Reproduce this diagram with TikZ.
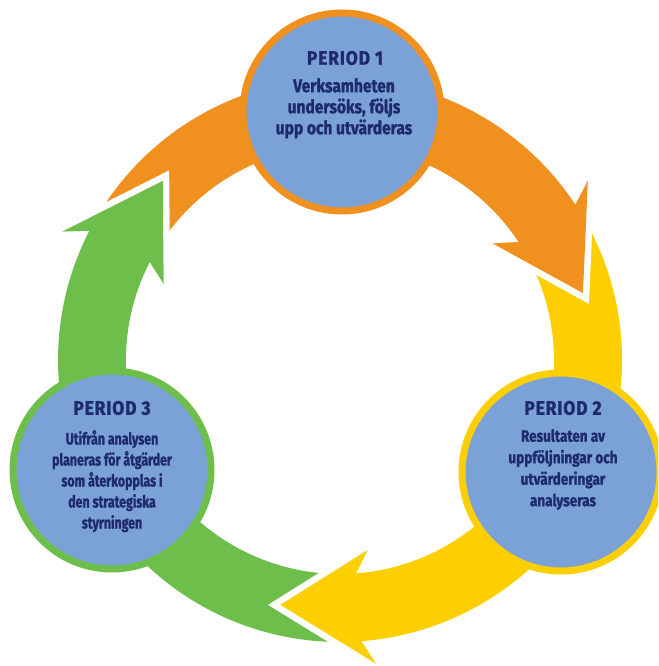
\documentclass[tikz,border=0pt]{standalone}
\usepackage{fontspec}
\setmainfont{Fira Sans}[FakeStretch=0.75, BoldFeatures={FakeBold=1.2}]
\newfontfamily\bodyone{Fira Sans}[FakeStretch=0.84, BoldFeatures={FakeBold=1.3}]
\newfontfamily\bodytwo{Fira Sans}[FakeStretch=0.82, BoldFeatures={FakeBold=1.2}]
\newfontfamily\ttlfont{Fira Sans}[FakeStretch=0.9, LetterSpace=4, BoldFeatures={FakeBold=1.2}]
\definecolor{corange}{HTML}{F0901F}
\definecolor{cyellow}{HTML}{FDCF00}
\definecolor{cgreen}{HTML}{6EBE4B}
\definecolor{cblue}{HTML}{7AA2D6}
\definecolor{cnavy}{HTML}{1F2A6C}
\def\rin{214}
\def\rout{282}
\def\rtip{252}
\def\rbi{192}
\def\rbo{306}
\newcommand{\cyclebody}[3]{%
  \pgfmathsetmacro\aJ{#3+18}%
  \pgfmathsetmacro\aBo{#3+20.5}%
  \pgfmathsetmacro\aBi{#3+22}%
  \fill[#1] (#2:\rout) arc[start angle=#2, end angle=\aJ, radius=\rout]
    -- (\aBo:\rbo) -- (#3:\rtip) -- (\aBi:\rbi) -- (\aJ:\rin)
    arc[start angle=\aJ, end angle=#2, radius=\rin] -- cycle;
}
\newcommand{\cyclehead}[2]{%
  \pgfmathsetmacro\aJ{#2+18}%
  \pgfmathsetmacro\aBo{#2+20.5}%
  \pgfmathsetmacro\aBi{#2+22}%
  \draw[white, line width=13, line join=miter] (\aBo:\rbo) -- (#2:\rtip) -- (\aBi:\rbi);
  \fill[#1] (\aJ:\rout) -- (\aBo:\rbo) -- (#2:\rtip) -- (\aBi:\rbi) -- (\aJ:\rin) -- cycle;
}
\begin{document}
\begin{tikzpicture}[x=1pt,y=1pt,
  period/.style={circle, minimum size=198, inner sep=0, fill=cblue, line width=7},
  ttl/.style={text=cnavy, font=\ttlfont\fontsize{19.5}{21}\selectfont\bfseries, inner sep=0},
  bdy/.style={text=cnavy, font=\fontsize{16.5}{21}\selectfont\bfseries, align=center, inner sep=0, anchor=north}]
\useasboundingbox (0,0) rectangle (658,666);
\clip (0,0) rectangle (658,666);
\begin{scope}[shift={(340,306)}]
  \cyclebody{corange}{151.7}{15.4}
  \cyclebody{cyellow}{32.4}{-103.7}
  \cyclebody{cgreen}{273.3}{134.7}
  \cyclehead{corange}{15.4}
  \cyclehead{cyellow}{-103.7}
  \cyclehead{cgreen}{134.7}
\end{scope}
\node[period, draw=corange] (p1) at (342,554) {};
\node[period, draw=cyellow] (p2) at (561,194) {};
\node[period, draw=cgreen] (p3) at (112,196) {};
\node[ttl] (t1) at (345,608) {PERIOD 1};
\node[bdy, font=\bodyone\fontsize{18.5}{21}\selectfont\bfseries] (b1) at (344,588) {Verksamheten\\undersöks, följs\\upp och utvärderas};
\node[ttl] (t2) at (563,258) {PERIOD 2};
\node[bdy, font=\bodytwo\fontsize{16.5}{21.5}\selectfont\bfseries] (b2) at (563,237) {Resultaten av\\uppföljningar och\\utvärderingar\\analyseras};
\node[ttl] (t3) at (112,258) {PERIOD 3};
\node[bdy] (b3) at (112,236) {Utifrån analysen\\planeras för åtgärder\\som återkopplas i\\den strategiska\\styrningen};
\end{tikzpicture}
\end{document}
